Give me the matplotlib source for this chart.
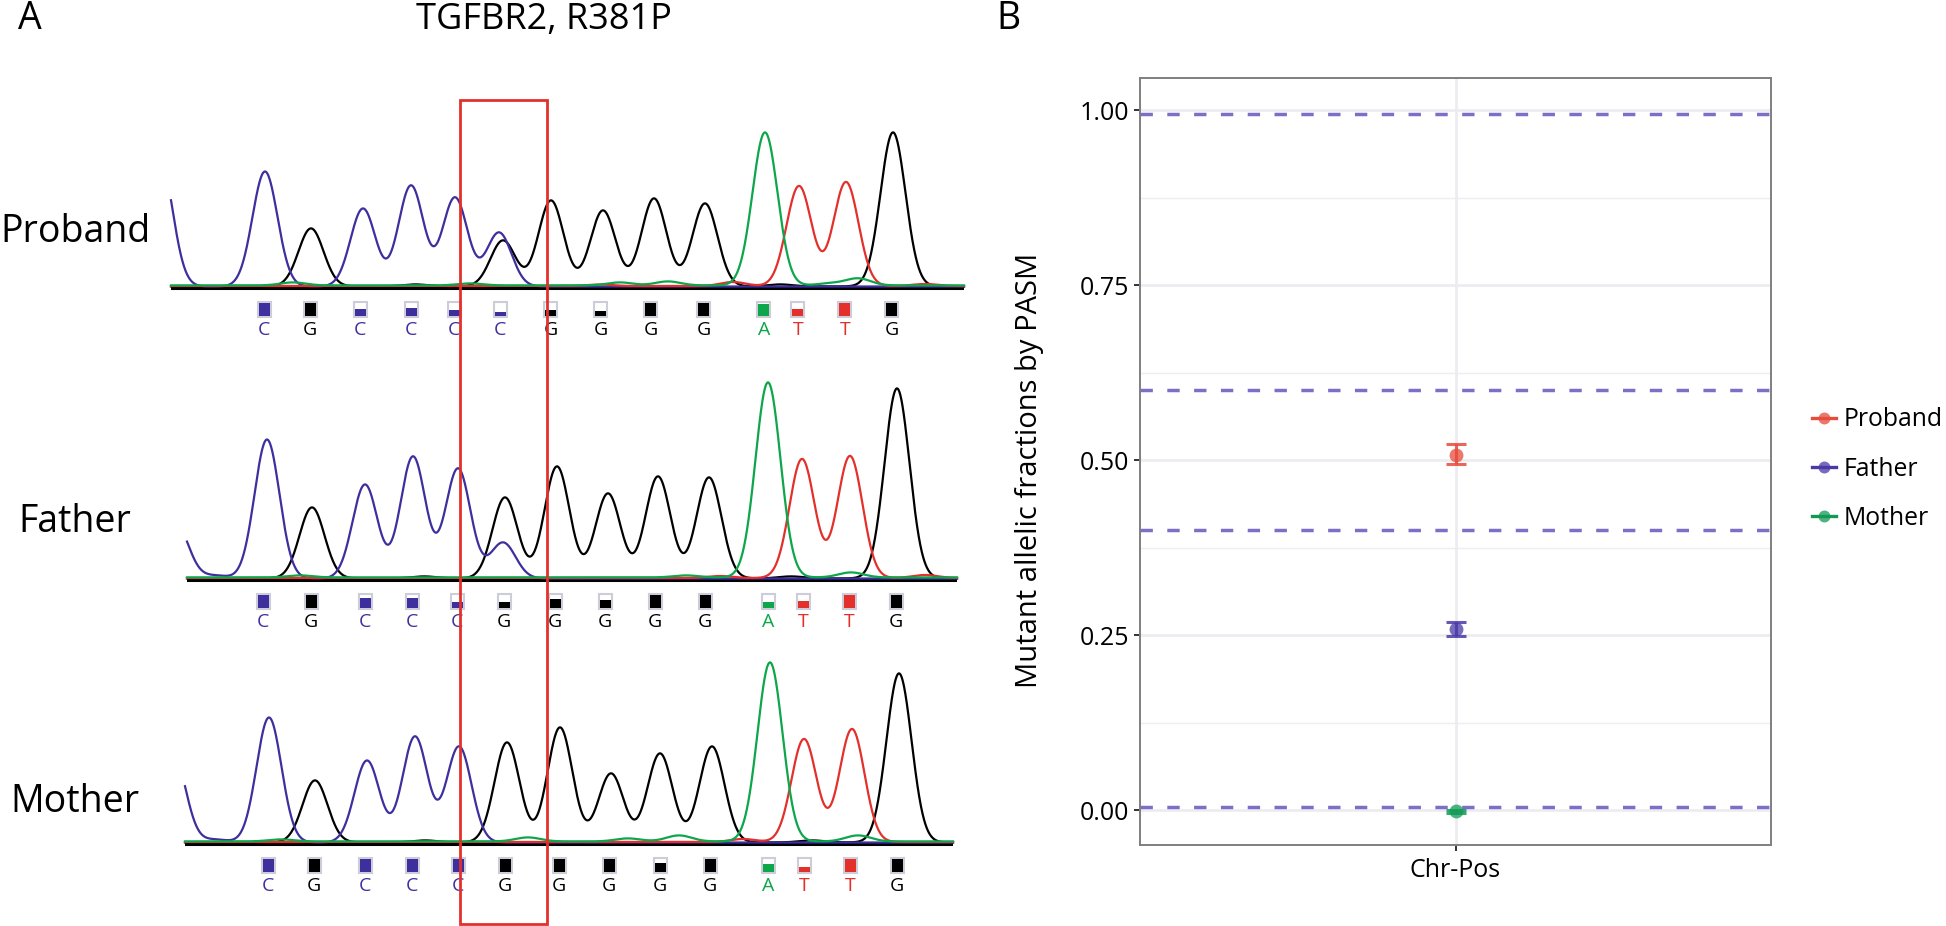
import numpy as np
import matplotlib
matplotlib.use("Agg")
import matplotlib.pyplot as plt
from matplotlib.patches import Rectangle
from matplotlib.lines import Line2D
from matplotlib.legend_handler import HandlerTuple
import matplotlib.transforms as mtransforms

plt.rcParams['font.family'] = ['Open Sans', 'DejaVu Sans']
plt.rcParams['lines.scale_dashes'] = False

W, H, DPI = 1946, 926, 100

# ======================= Panel A data (Sanger traces) =======================
sample_names = ["Proband", "Father", "Mother"]
title_A = "TGFBR2, R381P"

# peak tables per sample and channel: scan position, signal height
pro_peaks = {
    "C": ([160, 265, 363, 411, 455, 499], [127, 115, 78, 101, 89, 54]),
    "G": ([311, 415, 503, 551, 603, 654, 705, 780, 893], [58, 2, 46, 86, 76, 88, 83, 2, 154]),
    "A": ([293, 470, 620, 668, 765, 830, 858], [3, 2, 3, 4, 153, 2, 7]),
    "T": ([600, 733, 799, 846, 925], [1.5, 4, 100, 104, 2]),
}
fat_peaks = {
    "C": ([176, 215, 267, 365, 413, 458, 503], [54, 3, 139, 94, 122, 110, 36]),
    "G": ([312, 424, 505, 557, 608, 658, 709, 791, 897], [71, 2, 81, 112, 85, 102, 101, 2, 190]),
    "A": ([300, 686, 768, 851], [2, 2, 195, 5]),
    "T": ([720, 802, 850, 925], [2, 119, 122, 3]),
}
mot_peaks = {
    "C": ([173, 215, 269, 367, 415, 459], [89, 3, 125, 82, 106, 96]),
    "G": ([315, 425, 507, 560, 611, 660, 712, 812, 899], [62, 2, 100, 115, 69, 89, 96, 2, 169]),
    "A": ([281, 528, 628, 679, 770, 858], [2, 4, 3, 6, 179, 6]),
    "T": ([743, 804, 852], [3, 103, 113]),
}
all_peaks = [pro_peaks, fat_peaks, mot_peaks]

# base calls, call positions and quality fractions
pro_calls = list("CGCCCCGGGGATTG")
fat_calls = list("CGCCCGGGGGATTG")
mot_calls = list("CGCCCGGGGGATTG")
pro_call_pos = [264, 310, 360, 411, 454, 500, 551, 601, 651, 704, 764, 798, 845, 892]
fat_call_pos = [263, 311, 365, 412, 457, 504, 555, 605, 655, 705, 768, 803, 849, 896]
mot_call_pos = [268, 314, 365, 412, 458, 505, 559, 609, 660, 710, 768, 804, 850, 897]
pro_qual = [1, 1, 0.55, 0.6, 0.5, 0.27, 0.45, 0.4, 1, 1, 0.9, 0.55, 1, 1]
fat_qual = [1, 1, 0.75, 0.75, 0.5, 0.43, 0.68, 0.6, 1, 1, 0.5, 0.57, 1, 1]
mot_qual = [1, 1, 1, 1, 1, 1, 1, 1, 0.7, 1, 0.65, 0.4, 1, 1]
all_calls = [pro_calls, fat_calls, mot_calls]
all_call_pos = [pro_call_pos, fat_call_pos, mot_call_pos]
all_qual = [pro_qual, fat_qual, mot_qual]
highlight_index = 5   # mutated base

# ======================= Panel B data =======================
groups = ["Proband", "Father", "Mother"]
category = ["Chr-Pos"]
maf = [0.508, 0.258, -0.002]
maf_low = [0.494, 0.248, -0.004]
maf_high = [0.523, 0.268, 0.000]
thresholds = [0.005, 0.40, 0.60, 0.995]
yticks = [0.00, 0.25, 0.50, 0.75, 1.00]
ytick_labels = ["0.00", "0.25", "0.50", "0.75", "1.00"]
ylabel_B = "Mutant allelic fractions by PASM"

# ======================= styling =======================
base_col = {"C": "#3D2F9E", "G": "#000000", "A": "#0DA64B", "T": "#E3302B"}
base_off = {"C": 0.5, "G": 0.6, "A": 1.6, "T": 1.0}
SIG = 12.5
grp_col = {"Proband": "#E64B3C", "Father": "#4A3AA8", "Mother": "#129A55"}

fig = plt.figure(figsize=(W / DPI, H / DPI), dpi=DPI)
fig.patch.set_facecolor("white")

# layout of trace strips (pixels)
strip_x0 = [171, 187, 185]
strip_x1 = [964, 957, 953]
strip_base = [287, 579, 843]
label_baseline = [242, 532, 812]
BELOW, ABOVE = 70, 230

axes_A = []
for i, name in enumerate(sample_names):
    x0, x1, b = strip_x0[i], strip_x1[i], strip_base[i]
    ax = fig.add_axes([x0 / W, 1 - (b + BELOW) / H, (x1 - x0) / W, (BELOW + ABOVE) / H])
    ax.set_xlim(x0, x1)
    ax.set_ylim(-BELOW, ABOVE)
    ax.axis("off")
    axes_A.append(ax)
    ax.axhline(-1.0, color="black", lw=2.2, zorder=1)
    xs = np.linspace(x0, x1, 3000)
    for ch in ["G", "C", "T", "A"]:
        pos, hts = all_peaks[i][ch]
        sig = base_off[ch] + np.zeros_like(xs)
        for p, h in zip(pos, hts):
            sig = sig + h * np.exp(-0.5 * ((xs - p) / SIG) ** 2)
        ax.plot(xs, sig, color=base_col[ch], lw=1.6, zorder=2, clip_on=False,
                solid_joinstyle="round")
    for xb, bc, q in zip(all_call_pos[i], all_calls[i], all_qual[i]):
        ax.add_patch(Rectangle((xb - 6.5, -30), 13, 15, facecolor="white",
                               edgecolor="#CDCDDA", lw=1.5, zorder=3, clip_on=False))
        ax.add_patch(Rectangle((xb - 5.5, -29), 11, 13 * q, facecolor=base_col[bc],
                               edgecolor="none", zorder=4, clip_on=False))
        ax.text(xb, -43, bc, color=base_col[bc], ha="center", va="center",
                fontsize=14, zorder=4)
    fig.text(75 / W, 1 - label_baseline[i] / H, name, ha="center", va="baseline",
             fontsize=27, color="black")

# red highlight box around mutated base
hl_center = np.mean([p[highlight_index] for p in all_call_pos])
trans = mtransforms.blended_transform_factory(axes_A[0].transData, fig.transFigure)
fig.patches.append(Rectangle((hl_center - 43.5, 1 - 924 / H), 87, 824 / H,
                             transform=trans, facecolor="none", edgecolor="#E2312A",
                             lw=2.0, zorder=10))

fig.text(544 / W, 1 - 29 / H, title_A, ha="center", va="baseline", fontsize=26)
fig.text(18 / W, 1 - 29 / H, "A", ha="left", va="baseline", fontsize=27)
fig.text(996 / W, 1 - 29 / H, "B", ha="left", va="baseline", fontsize=27)

# ======================= Panel B =======================
axB = fig.add_axes([1140 / W, 1 - 845 / H, 631 / W, 767 / H])
axB.set_xlim(0.4, 1.6)
axB.set_ylim(-0.05, 1.046)
for yv in [0.125, 0.375, 0.625, 0.875]:
    axB.axhline(yv, color="#EEEEF2", lw=1.0, zorder=0)
for yv in yticks:
    axB.axhline(yv, color="#EBEBF0", lw=1.8, zorder=0)
axB.axvline(1, color="#EBEBF0", lw=1.8, zorder=0)
for t in thresholds:
    axB.axhline(t, color="#7B6FC6", lw=2.5, dashes=(8.9, 10.4),
                solid_capstyle="butt", dash_capstyle="butt", zorder=2)

for g, m, lo, hi in zip(groups, maf, maf_low, maf_high):
    axB.errorbar([1], [m], yerr=[[m - lo], [hi - m]], fmt="none",
                 ecolor=grp_col[g], elinewidth=2.2, capsize=7.2, capthick=2.2,
                 alpha=0.85, zorder=3)
    axB.plot([1], [m], "o", color=grp_col[g], markersize=10, alpha=0.75,
             markeredgewidth=0, zorder=4)

axB.set_yticks(yticks)
axB.set_yticklabels(ytick_labels)
axB.set_xticks([1])
axB.set_xticklabels(category)
axB.tick_params(axis="both", labelsize=18, length=4.5, width=1.4, color="#333333",
                labelcolor="black", pad=3)
axB.tick_params(axis="x", pad=5)
for sp in axB.spines.values():
    sp.set_color("#7F7F7F")
    sp.set_linewidth(1.4)
axB.text(-0.175, 0.489, ylabel_B, transform=axB.transAxes, rotation=90,
         ha="center", va="center", fontsize=21)

handles = []
for g in groups:
    mk = Line2D([0], [0], marker="o", color=grp_col[g], linestyle="none",
                markersize=8.6, alpha=0.75, markeredgewidth=0)
    ln = Line2D([0], [0], color=grp_col[g], lw=2.4)
    handles.append((mk, ln))
fig.legend(handles, groups, handler_map={tuple: HandlerTuple(ndivide=1)},
           loc="center left", bbox_to_anchor=(1790 / W, 1 - 469 / H),
           frameon=False, fontsize=17.8, handlelength=0.96, handletextpad=0.3,
           labelspacing=0.98, borderpad=0.4, borderaxespad=0.5)

fig.savefig("out.png", dpi=DPI, facecolor="white")
